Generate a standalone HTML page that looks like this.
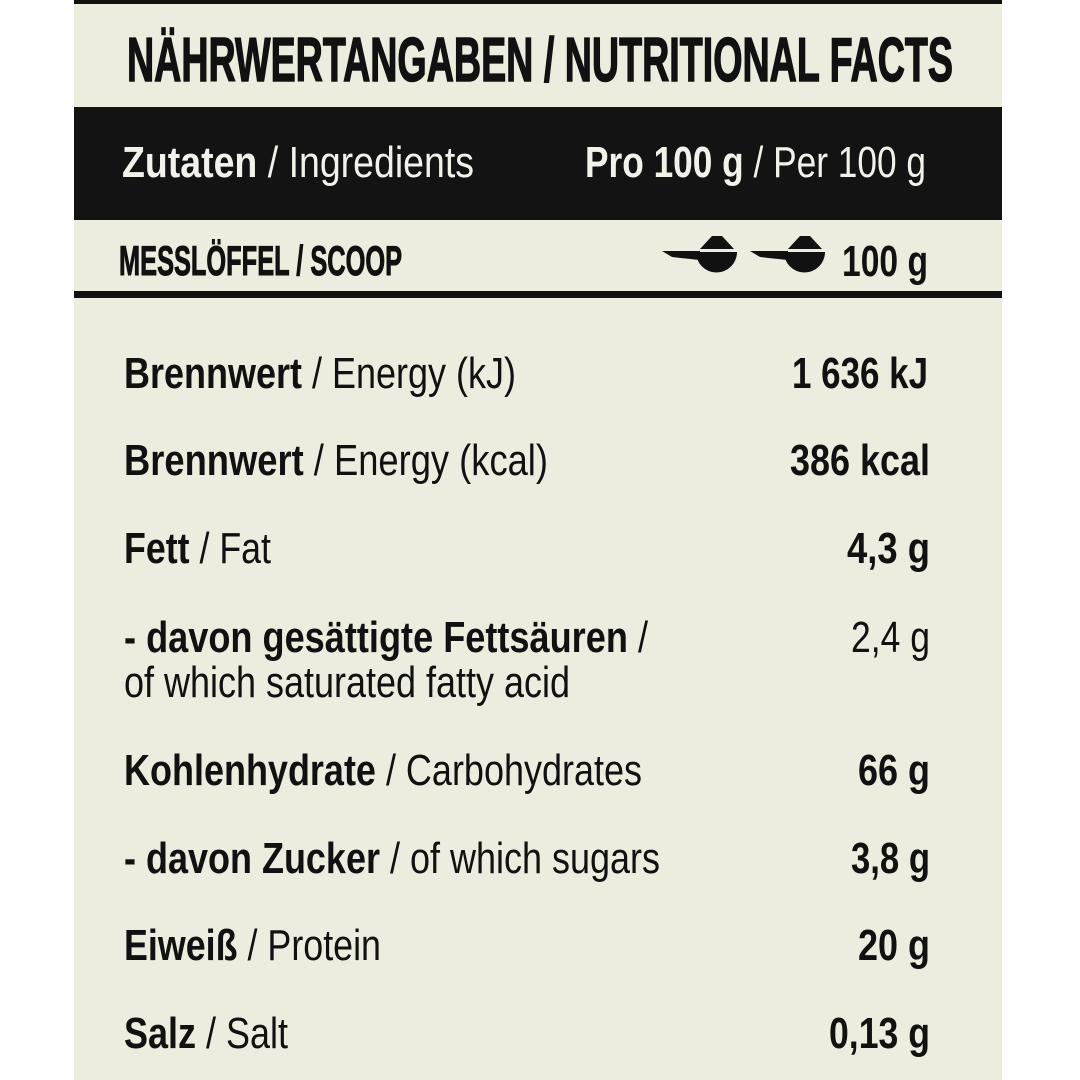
<!DOCTYPE html>
<html><head><meta charset="utf-8"><style>html,body{margin:0;padding:0;background:#fff}svg{display:block}</style></head>
<body>
<svg width="1080" height="1080" viewBox="0 0 1080 1080" xmlns="http://www.w3.org/2000/svg" font-family="Liberation Sans, sans-serif" fill="#111">
<rect x="74" y="0" width="928" height="1080" fill="#ededdf"/>
<rect x="74" y="0" width="928" height="4" fill="#111"/>
<rect x="74" y="107" width="928" height="113" fill="#131313"/>
<rect x="74" y="291" width="928" height="7" fill="#111"/>
<text x="127" y="81" font-size="62" font-weight="bold" stroke="#111" stroke-width="1.5" textLength="826" lengthAdjust="spacingAndGlyphs">NÄHRWERTANGABEN / NUTRITIONAL FACTS</text>
<g fill="#f2f2ea" font-size="44">
<text x="122" y="177" textLength="352" lengthAdjust="spacingAndGlyphs"><tspan font-weight="bold">Zutaten</tspan> / Ingredients</text>
<text x="585" y="177" textLength="341" lengthAdjust="spacingAndGlyphs"><tspan font-weight="bold">Pro 100 g</tspan> / Per 100 g</text>
</g>
<text x="119" y="275" font-size="42" font-weight="bold" stroke="#111" stroke-width="1" textLength="283" lengthAdjust="spacingAndGlyphs">MESSLÖFFEL / SCOOP</text>
<g>
<path d="M662 251 L700 251 L700 260 Q690 259 672 257 Z"/>
<path d="M696 252 L737 252 A20.5 20.5 0 0 1 696 252 Z"/>
<path d="M700 249 L712 236 L722 236 L734 249 Z"/>
<path d="M750 251 L788 251 L788 260 Q778 259 760 257 Z"/>
<path d="M784 252 L825 252 A20.5 20.5 0 0 1 784 252 Z"/>
<path d="M788 249 L800 236 L810 236 L822 249 Z"/>
</g>
<text x="842" y="276" font-size="44" font-weight="bold" textLength="86" lengthAdjust="spacingAndGlyphs">100 g</text>
<g font-size="44">
<text x="124" y="388" textLength="392" lengthAdjust="spacingAndGlyphs"><tspan font-weight="bold">Brennwert</tspan> / Energy (kJ)</text>
<text x="792" y="388" font-weight="bold" textLength="136" lengthAdjust="spacingAndGlyphs">1 636 kJ</text>
<text x="124" y="475" textLength="424" lengthAdjust="spacingAndGlyphs"><tspan font-weight="bold">Brennwert</tspan> / Energy (kcal)</text>
<text x="790" y="475" font-weight="bold" textLength="140" lengthAdjust="spacingAndGlyphs">386 kcal</text>
<text x="124" y="563" textLength="147" lengthAdjust="spacingAndGlyphs"><tspan font-weight="bold">Fett</tspan> / Fat</text>
<text x="847" y="563" font-weight="bold" textLength="83" lengthAdjust="spacingAndGlyphs">4,3 g</text>
<text x="124" y="652" textLength="524" lengthAdjust="spacingAndGlyphs"><tspan font-weight="bold">- davon gesättigte Fettsäuren</tspan> /</text>
<text x="124" y="697" textLength="446" lengthAdjust="spacingAndGlyphs">of which saturated fatty acid</text>
<text x="851" y="652" textLength="79" lengthAdjust="spacingAndGlyphs">2,4 g</text>
<text x="124" y="785" textLength="518" lengthAdjust="spacingAndGlyphs"><tspan font-weight="bold">Kohlenhydrate</tspan> / Carbohydrates</text>
<text x="858" y="785" font-weight="bold" textLength="72" lengthAdjust="spacingAndGlyphs">66 g</text>
<text x="124" y="873" textLength="536" lengthAdjust="spacingAndGlyphs"><tspan font-weight="bold">- davon Zucker</tspan> / of which sugars</text>
<text x="851" y="873" font-weight="bold" textLength="79" lengthAdjust="spacingAndGlyphs">3,8 g</text>
<text x="124" y="960" textLength="257" lengthAdjust="spacingAndGlyphs"><tspan font-weight="bold">Eiweiß</tspan> / Protein</text>
<text x="858" y="960" font-weight="bold" textLength="72" lengthAdjust="spacingAndGlyphs">20 g</text>
<text x="124" y="1048" textLength="164" lengthAdjust="spacingAndGlyphs"><tspan font-weight="bold">Salz</tspan> / Salt</text>
<text x="829" y="1048" font-weight="bold" textLength="101" lengthAdjust="spacingAndGlyphs">0,13 g</text>
</g>
</svg>
</body></html>
